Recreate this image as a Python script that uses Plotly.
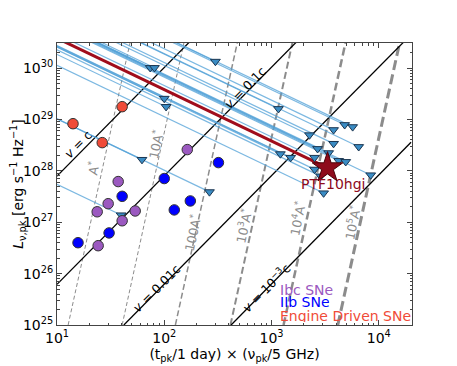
import plotly.graph_objects as go

# --- data ---
ibc_x = [37.2, 30.0, 23.7, 53.6, 40.5, 24.2, 164]
ibc_L = [6.2e27, 2.3e27, 1.6e27, 1.66e27, 1.07e27, 3.5e26, 2.6e28]

iib_x = [15.7, 30.6, 40.5, 100, 124, 175, 320]
iib_L = [4.0e26, 6.2e26, 3.2e27, 7.1e27, 1.74e27, 2.6e27, 1.45e28]

eng_x = [14.1, 26.4, 40.5]
eng_L = [8.3e28, 3.55e28, 1.78e29]

# upper limits (triangles)
lim_x = [1160, 4810, 5710, 3790, 2260, 6500, 3790, 2690, 3410, 1210, 1510, 2520, 4230,
         4920, 2520, 8410, 2870, 3060, 74, 81, 300, 100, 104, 62, 264, 39.6]
lim_L = [1.62e29, 7.9e28, 7.2e28, 6.3e28, 5.0e28, 2.95e28, 3.4e28, 2.7e28, 2.24e28,
         2.14e28, 1.82e28, 1.82e28, 1.58e28, 1.51e28, 1.07e28, 8.3e27, 7.9e27, 3.7e27,
         1.02e30, 1.02e30, 1.35e30, 2.57e29, 1.78e29, 1.66e28, 3.9e27, 1.38e27]
lim_slope = -1.0   # L ~ x^-1 tracks drawn back from each limit

ptf_x = [3330]
ptf_L = [1.15e28]

# constant-velocity lines (end points)
vel_x = [[10, 171], [10, 1700], [42, 17000], [420, 20000]]
vel_L = [[7.9e27, 3.2e30], [6.2e25, 3.2e30], [1e25, 3.2e30], [1e25, 3.6e28]]
vel_lab = ["<i>v</i> = c", "<i>v</i> = 0.1c", "<i>v</i> = 0.01c", "<i>v</i> = 10<sup>−3</sup>c"]

# constant-density (A*) lines (end points)
a_x_bot = [12.7, 40.5, 127, 414, 1295, 4150]
a_x_top = [48.1, 153, 481, 1570, 4910, 15700]
a_L = [1e25, 3.2e30]
a_lab = ["A<sup>*</sup>", "10A<sup>*</sup>", "100A<sup>*</sup>",
         "10<sup>3</sup>A<sup>*</sup>", "10<sup>4</sup>A<sup>*</sup>", "10<sup>5</sup>A<sup>*</sup>"]

FONT = "DejaVu Sans"
fig = go.Figure()

a_width = [1, 1, 1.5, 2, 2.5, 3]
a_dash = ["4px,2.5px", "4px,2.5px", "6px,3px", "7px,3.5px", "8px,4px", "10px,4.5px"]
for i in range(len(a_x_bot)):
    fig.add_trace(go.Scatter(x=[a_x_bot[i], a_x_top[i]], y=a_L, mode="lines",
                             line=dict(color="#8c8c8c", width=a_width[i], dash=a_dash[i]),
                             showlegend=False, hoverinfo="skip"))

for i in range(len(vel_x)):
    fig.add_trace(go.Scatter(x=vel_x[i], y=vel_L[i], mode="lines",
                             line=dict(color="black", width=1.3),
                             showlegend=False, hoverinfo="skip"))

# tracks behind the limits
for x0, L0 in zip(lim_x, lim_L):
    fig.add_trace(go.Scatter(x=[x0, 10], y=[L0, L0 * (10 / x0) ** lim_slope], mode="lines",
                             line=dict(color="rgba(80,160,215,0.75)", width=1.2),
                             showlegend=False, hoverinfo="skip"))

fig.add_trace(go.Scatter(x=[ptf_x[0], 10], y=[ptf_L[0], ptf_L[0] * (10 / ptf_x[0]) ** lim_slope],
                         mode="lines", line=dict(color="#a00d1c", width=3),
                         showlegend=False, hoverinfo="skip"))

fig.add_trace(go.Scatter(x=lim_x, y=lim_L, mode="markers",
                         marker=dict(symbol="triangle-down", size=8.5, color="#3a8cc4",
                                     line=dict(color="#1a3550", width=1)),
                         showlegend=False))

ms = 10.5
fig.add_trace(go.Scatter(x=ibc_x, y=ibc_L, mode="markers",
                         marker=dict(size=ms, color="#9b59c0", line=dict(color="#333", width=1)),
                         showlegend=False))
fig.add_trace(go.Scatter(x=iib_x, y=iib_L, mode="markers",
                         marker=dict(size=ms, color="#0000ff", line=dict(color="#333", width=1)),
                         showlegend=False))
fig.add_trace(go.Scatter(x=eng_x, y=eng_L, mode="markers",
                         marker=dict(size=ms, color="#f04b38", line=dict(color="#333", width=1)),
                         showlegend=False))
fig.add_trace(go.Scatter(x=ptf_x, y=ptf_L, mode="markers",
                         marker=dict(symbol="star", size=23, color="#8e0b1c",
                                     line=dict(color="#4a0008", width=1)),
                         showlegend=False))

ann = []
vel_pos = [(1.196, 28.51), (2.757, 29.62), (1.925, 25.72), (2.953, 25.74)]
for t, (px, py) in zip(vel_lab, vel_pos):
    ann.append(dict(x=px, y=py, text=t, textangle=-45, showarrow=False,
                    font=dict(family=FONT, size=12.5, color="black")))
a_pos = [(1.336, 28.06), (1.916, 28.51), (2.262, 26.79), (2.738, 26.93), (3.243, 27.08), (3.757, 27.0)]
for t, (px, py) in zip(a_lab, a_pos):
    ann.append(dict(x=px, y=py, text=t, textangle=-78, showarrow=False,
                    font=dict(family=FONT, size=12.5, color="#8c8c8c")))
ann.append(dict(x=3.579, y=27.75, text="PTF10hgi", showarrow=False,
                font=dict(family=FONT, size=14, color="#8e0b1c")))
for t, c, py in [("Ibc SNe", "#9b59c0", 25.70), ("IIb SNe", "#0000ff", 25.45),
                 ("Engine Driven SNe", "#f04b38", 25.19)]:
    ann.append(dict(x=3.056, y=py, text=t, xanchor="left", yanchor="middle", showarrow=False,
                    height=13, valign="middle",
                    font=dict(family=FONT, size=14, color=c)))

minor_x = [m * 10.0 ** e for e in range(1, 5) for m in range(2, 10)]
minor_y = [m * 10.0 ** e for e in range(25, 31) for m in range(2, 10)]

# the page body adds an 8px offset, so the figure is 8px smaller on each side
fig.update_layout(
    width=449, height=358,
    margin=dict(l=49, r=45, t=35, b=41),
    plot_bgcolor="white", paper_bgcolor="white",
    font=dict(family=FONT, size=14, color="black"),
    annotations=ann,
    xaxis=dict(type="log", range=[1, 4.31], showgrid=False, zeroline=False, automargin=False,
               showline=True, linecolor="#444", linewidth=1, mirror="allticks",
               ticks="inside", ticklen=5, tickcolor="#444",
               tickvals=[10, 100, 1000, 10000],
               ticktext=["10<sup>1</sup>", "10<sup>2</sup>", "10<sup>3</sup>", "10<sup>4</sup>"],
               minor=dict(tickvals=minor_x, ticks="inside", ticklen=2.5, tickcolor="#444"),
               title=dict(text="(t<sub>pk</sub>/1 day) × (ν<sub>pk</sub>/5 GHz)", standoff=1,
                          font=dict(size=14))),
    yaxis=dict(type="log", range=[25, 30.49], showgrid=False, zeroline=False, automargin=False,
               showline=True, linecolor="#444", linewidth=1, mirror="allticks",
               ticks="inside", ticklen=5, tickcolor="#444",
               tickvals=[10.0 ** e for e in range(25, 31)],
               ticktext=["10<sup>%d</sup>" % e for e in range(25, 31)],
               minor=dict(tickvals=minor_y, ticks="inside", ticklen=2.5, tickcolor="#444"),
               title=dict(text="<i>L</i><sub>ν,pk</sub> [erg s<sup>−1</sup> Hz<sup>−1</sup>]",
                          standoff=2, font=dict(size=14))),
)

fig.write_html("out.html")
